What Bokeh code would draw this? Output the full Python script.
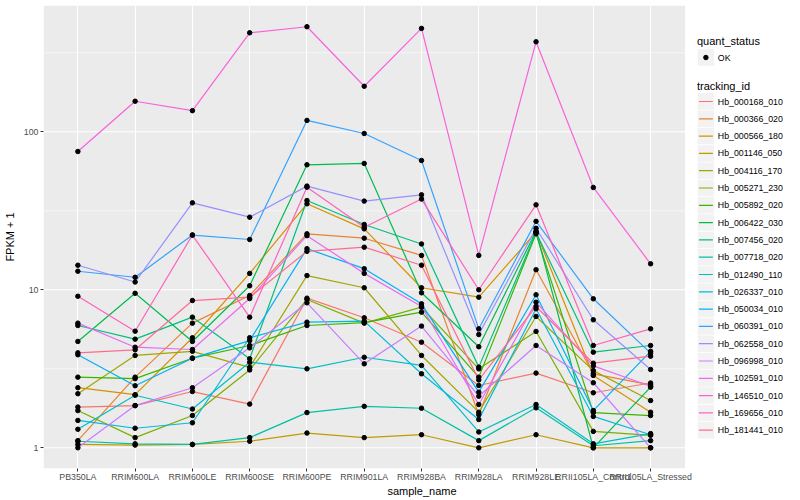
from bokeh.plotting import figure
from bokeh.models import (Range1d, FixedTicker, ColumnDataSource, NumeralTickFormatter,
                          BoxAnnotation, LinearScale)
from bokeh.embed import file_html
from bokeh.resources import INLINE
from bokeh.core.properties import value

samples = ["PB350LA", "RRIM600LA", "RRIM600LE", "RRIM600SE", "RRIM600PE", "RRIM901LA",
           "RRIM928BA", "RRIM928LA", "RRIM928LE", "RRII105LA_Control", "RRII105LA_Stressed"]

tracking_ids = ["Hb_000168_010", "Hb_000366_020", "Hb_000566_180", "Hb_001146_050",
                "Hb_004116_170", "Hb_005271_230", "Hb_005892_020", "Hb_006422_030",
                "Hb_007456_020", "Hb_007718_020", "Hb_012490_110", "Hb_026337_010",
                "Hb_050034_010", "Hb_060391_010", "Hb_062558_010", "Hb_096998_010",
                "Hb_102591_010", "Hb_146510_010", "Hb_169656_010", "Hb_181441_010"]

colors = ["#F8766D", "#EA8331", "#D89000", "#C09B00", "#A3A500", "#7CAE00", "#39B600",
          "#00BB4E", "#00BF7D", "#00C1A3", "#00BFC4", "#00BAE0", "#00B0F6", "#35A2FF",
          "#9590FF", "#C77CFF", "#E76BF3", "#FA62DB", "#FF62BC", "#FF6C90"]

# FPKM + 1 per sample (order of `samples`)
hb_000168_010 = [1.81, 1.85, 2.27, 1.89, 8.85, 6.65, 4.66, 2.48, 2.97, 2.23, 2.57]
hb_000366_020 = [1.11, 2.80, 6.15, 9.2, 22.6, 21.2, 16.5, 1.62, 13.4, 2.94, 2.50]
hb_000566_180 = [2.40, 2.17, 4.97, 12.7, 35.0, 24.3, 10.3, 8.98, 23.2, 2.87, 1.68]
hb_001146_050 = [1.05, 1.04, 1.05, 1.10, 1.24, 1.16, 1.21, 1.0, 1.21, 1.0, 1.0]
hb_004116_170 = [2.20, 3.84, 4.08, 3.23, 12.3, 10.3, 3.84, 1.68, 6.78, 3.08, 1.99]
hb_005271_230 = [1.72, 1.16, 1.60, 3.11, 8.68, 6.15, 7.76, 3.16, 5.45, 1.27, 1.20]
hb_005892_020 = [2.80, 2.74, 3.69, 4.44, 5.94, 6.2, 7.22, 2.80, 22.6, 1.67, 1.60]
hb_006422_030 = [4.71, 9.5, 4.71, 10.6, 61.8, 63.0, 9.57, 4.36, 23.5, 1.0, 2.42]
hb_007456_020 = [5.94, 4.87, 6.71, 3.66, 36.7, 25.9, 19.5, 3.24, 23.0, 4.03, 4.44]
hb_007718_020 = [1.10, 1.06, 1.05, 1.16, 1.67, 1.83, 1.78, 1.11, 1.79, 1.03, 1.11]
hb_012490_110 = [1.31, 2.15, 1.76, 3.48, 3.16, 3.74, 3.32, 1.26, 1.88, 1.06, 1.23]
hb_026337_010 = [1.49, 1.33, 1.44, 4.97, 6.24, 6.33, 2.94, 1.51, 7.58, 1.58, 1.21]
hb_050034_010 = [3.88, 2.47, 3.69, 4.77, 18.2, 13.6, 8.15, 2.25, 9.3, 1.72, 4.08]
hb_060391_010 = [13.1, 12.0, 22.2, 20.8, 118, 97.5, 65.8, 5.66, 27.1, 8.77, 3.97]
hb_062558_010 = [14.3, 11.2, 35.5, 28.8, 45.3, 36.4, 39.9, 5.21, 24.5, 6.46, 3.13]
hb_096998_010 = [1.0, 1.85, 2.40, 4.29, 8.27, 3.40, 5.89, 2.12, 4.44, 2.58, 1.0]
hb_102591_010 = [6.15, 4.33, 4.19, 8.8, 22.0, 12.7, 7.84, 1.88, 8.35, 3.3, 2.45]
hb_146510_010 = [75, 156, 136, 423, 462, 194, 451, 16.5, 371, 44.4, 14.6]
hb_169656_010 = [9.1, 5.47, 22.2, 6.71, 44.6, 24.9, 37.5, 10.0, 34.5, 4.44, 5.66]
hb_181441_010 = [3.99, 4.17, 8.55, 8.98, 17.5, 18.6, 14.3, 2.69, 7.84, 3.43, 3.80]

series = [hb_000168_010, hb_000366_020, hb_000566_180, hb_001146_050, hb_004116_170,
          hb_005271_230, hb_005892_020, hb_006422_030, hb_007456_020, hb_007718_020,
          hb_012490_110, hb_026337_010, hb_050034_010, hb_060391_010, hb_062558_010,
          hb_096998_010, hb_102591_010, hb_146510_010, hb_169656_010, hb_181441_010]

y_major = [1, 10, 100]
y_minor = [10 ** 0.5, 10 ** 1.5, 10 ** 2.5]

FONT = "Liberation Sans"
n = len(samples)
xs = list(range(n))

# layout constants (px)
W, H = 800, 500
LEFT, TOP, BOTTOM = 40, 5, 32
PANEL_W = 644
GUIDE_W = W - LEFT - PANEL_W
x_lo, x_hi = -0.6, n - 1 + 0.6
unit_px = PANEL_W / (x_hi - x_lo)

p = figure(width=W, height=H,
           x_range=Range1d(x_lo, x_hi + GUIDE_W / unit_px),
           y_range=Range1d(10 ** -0.131, 10 ** 2.799),
           y_axis_type="log", output_backend="svg", toolbar_location=None,
           min_border_left=LEFT, min_border_right=0, min_border_top=TOP,
           min_border_bottom=BOTTOM,
           background_fill_color="white", border_fill_color="white",
           outline_line_color=None)

# guide coordinate system in picture px (frame = 40..800 x 5..468)
p.extra_x_ranges = {"gx": Range1d(LEFT, W)}
p.extra_y_ranges = {"gy": Range1d(H - BOTTOM, TOP)}
p.extra_x_scales = {"gx": LinearScale()}
p.extra_y_scales = {"gy": LinearScale()}

panel = BoxAnnotation(left=x_lo, right=x_hi, fill_color="#EBEBEB", fill_alpha=1.0,
                      line_color=None, level="image")
p.add_layout(panel)

p.xaxis.ticker = FixedTicker(ticks=xs)
p.xaxis.bounds = (x_lo, x_hi)
p.xaxis.major_label_overrides = {i: s for i, s in enumerate(samples)}
p.yaxis.ticker = FixedTicker(ticks=y_major, minor_ticks=y_minor)
p.yaxis.formatter = NumeralTickFormatter(format="0")
p.xaxis.axis_label = "sample_name"
p.yaxis.axis_label = "FPKM + 1"

for ax in (p.xaxis[0], p.yaxis[0]):
    ax.axis_line_color = None
    ax.major_tick_line_color = "#333333"
    ax.major_tick_in = 0
    ax.major_tick_out = 3
    ax.minor_tick_line_color = None
    ax.major_label_text_font = FONT
    ax.major_label_text_font_size = "8.8px"
    ax.major_label_text_color = "#4D4D4D"
    ax.major_label_text_line_height = 1.0
    ax.major_label_standoff = 0
    ax.axis_label_text_font = FONT
    ax.axis_label_text_font_size = "11px"
    ax.axis_label_text_font_style = "normal"
    ax.axis_label_text_color = "black"
    ax.axis_label_text_line_height = 1.0
    ax.axis_label_standoff = 0
p.yaxis.major_label_standoff = 1
p.yaxis.axis_label_standoff = 5

p.xgrid.grid_line_color = "white"
p.xgrid.grid_line_width = 1.1
p.ygrid.visible = False

gmaj = p.segment(x0=[x_lo] * 3, x1=[x_hi] * 3, y0=y_major, y1=y_major,
                 line_color="white", line_width=1.1)
gmin = p.segment(x0=[x_lo] * 3, x1=[x_hi] * 3, y0=y_minor, y1=y_minor,
                 line_color="white", line_width=0.55)
gmaj.level = "underlay"
gmin.level = "underlay"

for vals, col in zip(series, colors):
    src = ColumnDataSource(dict(x=xs, y=vals))
    p.line("x", "y", source=src, line_color=col, line_width=1.2)
for vals in series:
    src = ColumnDataSource(dict(x=xs, y=vals))
    p.scatter("x", "y", source=src, size=4.5, color="black")

# ggplot-style guides on the right
G = dict(x_range_name="gx", y_range_name="gy")
p.text(x=[696], y=[40.5], text=["quant_status"], text_font=value(FONT),
       text_font_size="11px", text_baseline="middle", text_color="black", **G)
p.rect(x=[705], y=[57], width=16.5, height=16.5, fill_color="#F2F2F2", line_color=None, **G)
p.scatter(x=[705], y=[57], size=4.5, color="black", **G)
p.text(x=[717], y=[57], text=["OK"], text_font=value(FONT),
       text_font_size="8.8px", text_baseline="middle", text_color="black", **G)

p.text(x=[696], y=[85], text=["tracking_id"], text_font=value(FONT),
       text_font_size="11px", text_baseline="middle", text_color="black", **G)
m = len(tracking_ids)
key_y = [101 + 17.3 * i for i in range(m)]
p.rect(x=[705] * m, y=key_y, width=16.5, height=16.5,
       fill_color="#F2F2F2", line_color=None, **G)
p.segment(x0=[698] * m, y0=key_y, x1=[712] * m, y1=key_y,
          line_color=colors, line_width=1.2, **G)
p.text(x=[717] * m, y=key_y, text=tracking_ids, text_font=value(FONT),
       text_font_size="8.8px", text_baseline="middle", text_color="black", **G)

open("out.html", "w").write(file_html(p, INLINE))
